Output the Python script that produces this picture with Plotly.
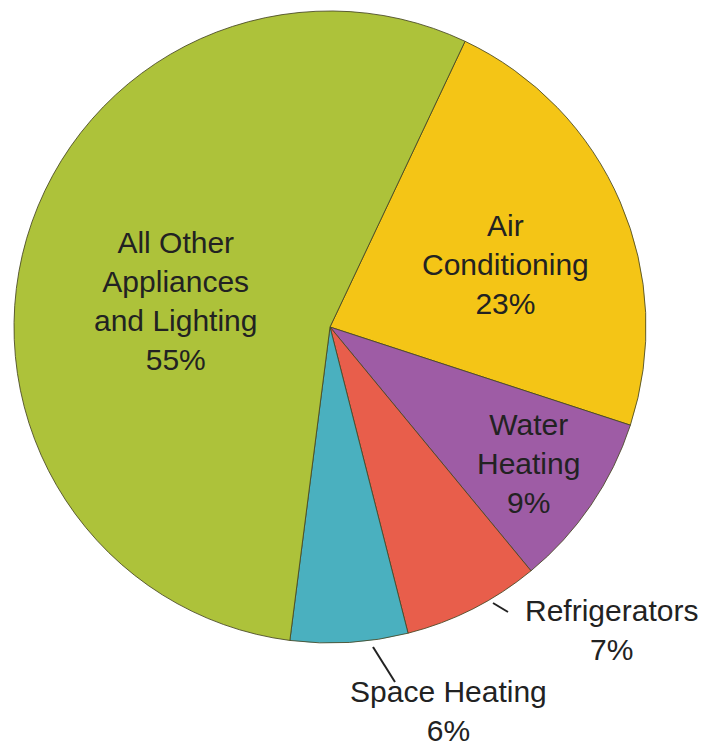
import plotly.graph_objects as go

# Data
categories = ["Air Conditioning", "Water Heating", "Refrigerators", "Space Heating",
              "All Other Appliances and Lighting"]
values = [23, 9, 7, 6, 55]
label_lines = [["Air", "Conditioning"], ["Water", "Heating"], ["Refrigerators"],
               ["Space Heating"], ["All Other", "Appliances", "and Lighting"]]

# Style
colors = ["#f4c516", "#9e5ca5", "#e85e4b", "#4ab0bf", "#adc23a"]
W, H = 705, 748
# (x, y, yanchor) in pixels from the top-left corner
label_px = [(505, 264, "middle"), (528, 463, "middle"), (611, 630, "middle"),
            (448, 748, "bottom"), (175, 301, "middle")]
leader_px = [None, None, ((493, 603), (508, 612)), ((373, 647), (395, 682)), None]
font_family = "Liberation Sans, Arial, sans-serif"
font_size = 30
text_color = "#222222"

fig = go.Figure(go.Pie(
    labels=categories,
    values=values,
    sort=False,
    direction="clockwise",
    rotation=25.3,
    marker=dict(colors=colors, line=dict(color="rgba(70,70,35,0.85)", width=1)),
    textinfo="none",
    hoverinfo="skip",
    showlegend=False,
    domain=dict(x=[13 / W, 647 / W], y=[1 - 643 / H, 1 - 11 / H]),
))

total = sum(values)
for lines, v, (px, py, ya) in zip(label_lines, values, label_px):
    txt = "<br>".join(lines + [f"{round(100 * v / total)}%"])
    fig.add_annotation(
        x=px / W, y=1 - py / H, xref="paper", yref="paper",
        text=txt, showarrow=False, xanchor="center", yanchor=ya,
        font=dict(family=font_family, size=font_size, color=text_color),
        align="center", borderpad=0,
    )

for ld in leader_px:
    if ld is None:
        continue
    (x0, y0), (x1, y1) = ld
    fig.add_shape(type="line", xref="paper", yref="paper",
                  x0=x0 / W, y0=1 - y0 / H, x1=x1 / W, y1=1 - y1 / H,
                  line=dict(color="#222222", width=2))

fig.update_layout(
    width=W, height=H,
    margin=dict(l=0, r=0, t=0, b=0),
    paper_bgcolor="white",
    plot_bgcolor="white",
)

fig.write_html("out.html")
